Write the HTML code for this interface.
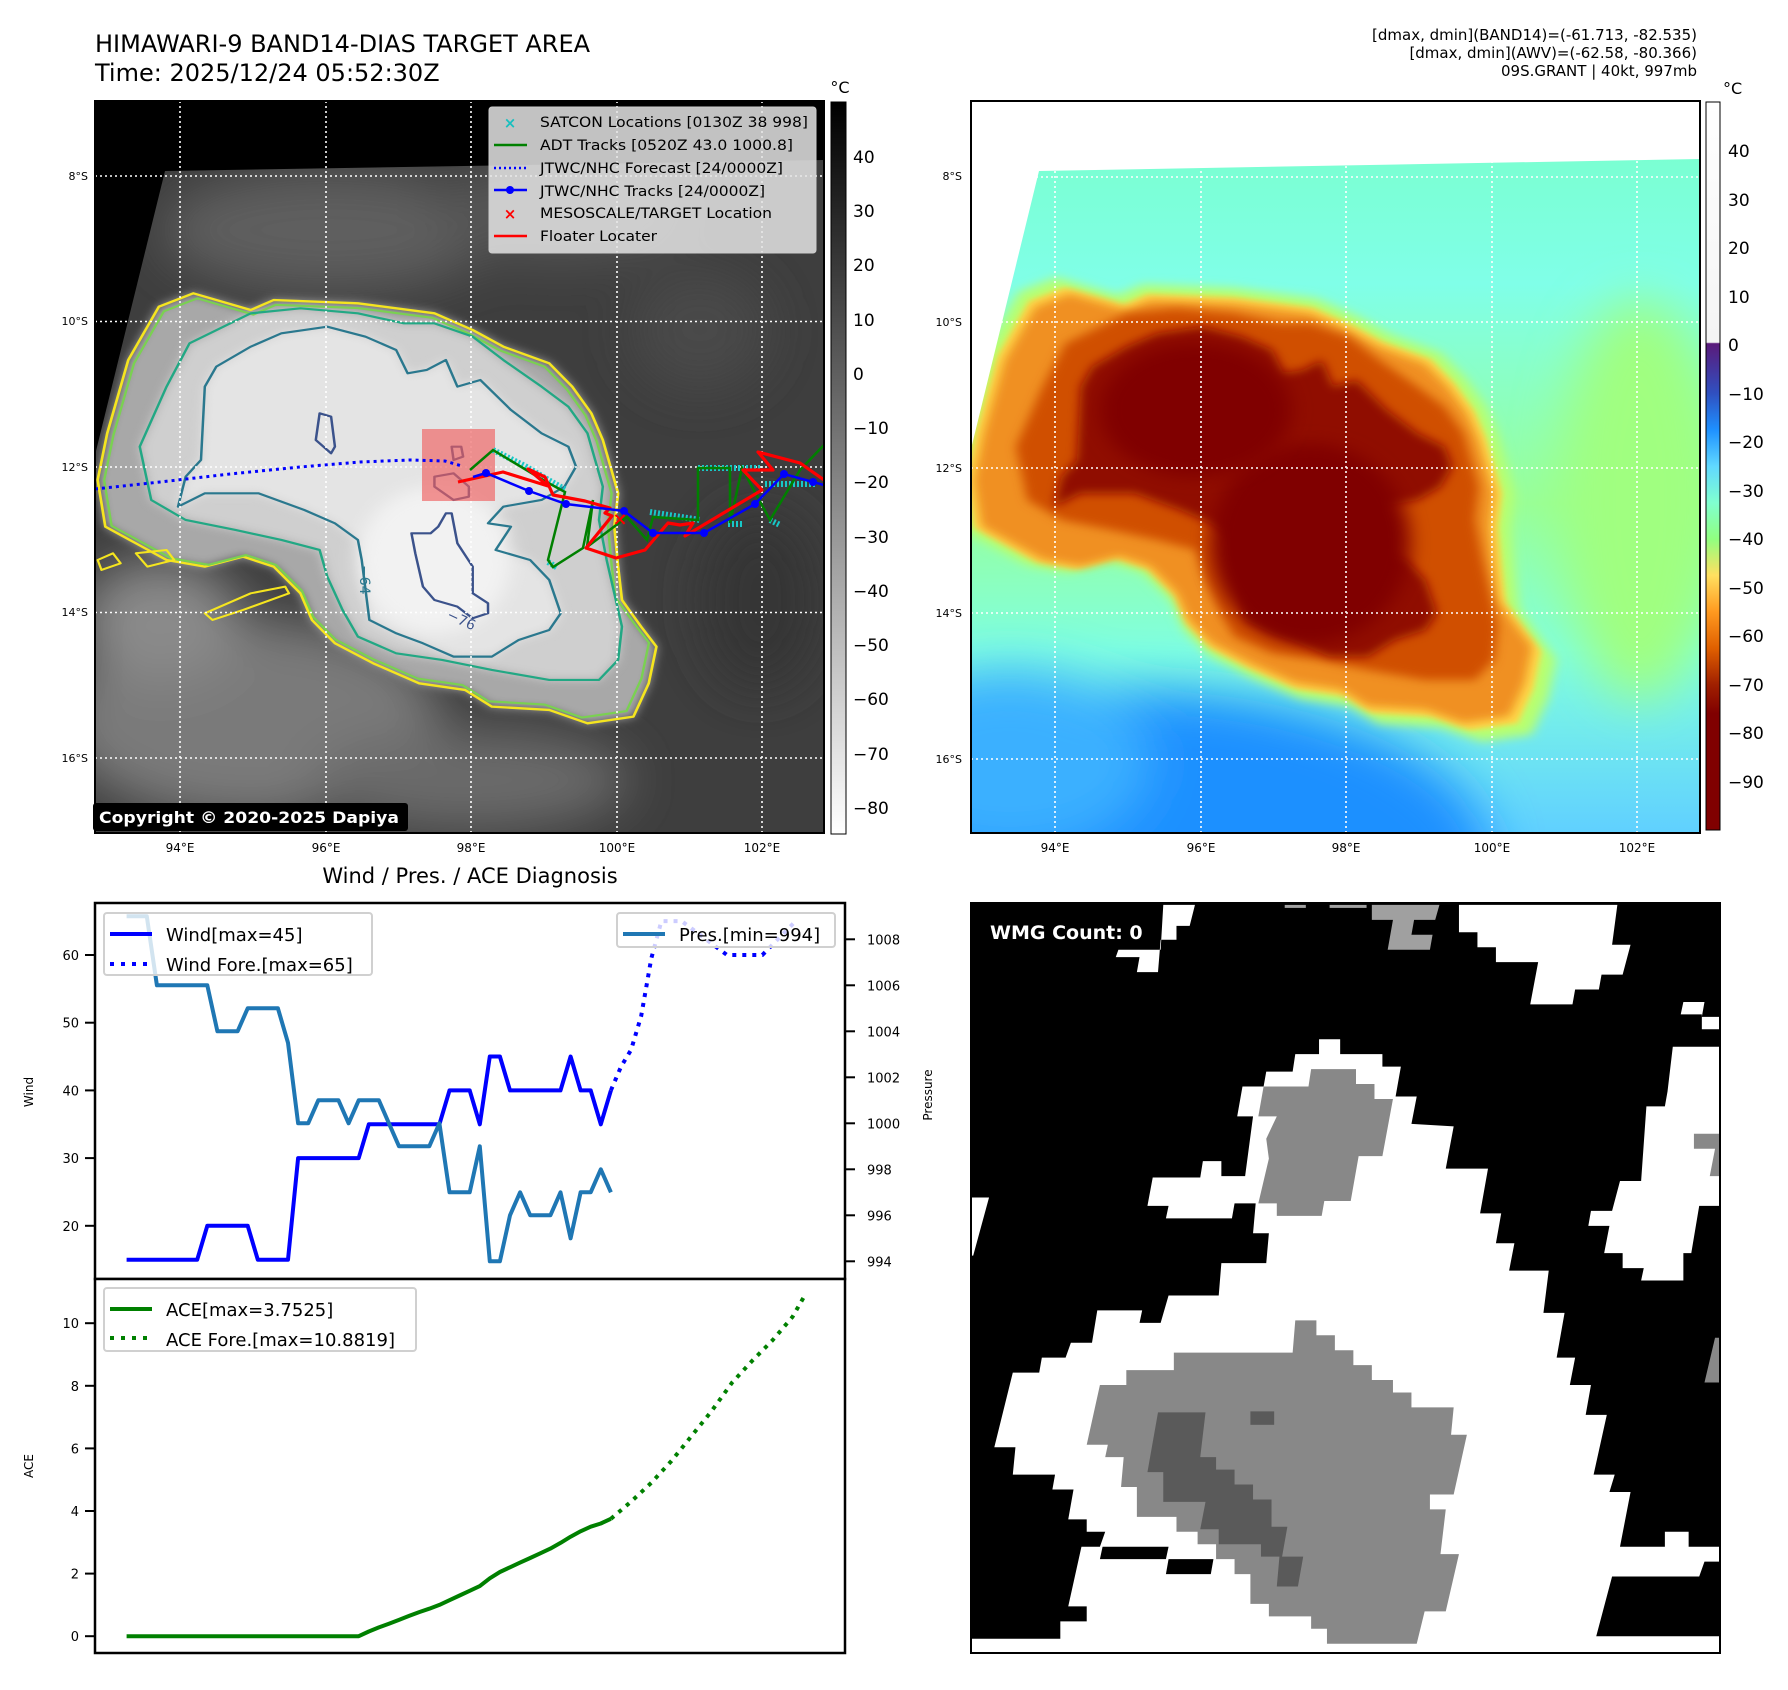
<!DOCTYPE html>
<html><head><meta charset="utf-8"><title>HIMAWARI-9 BAND14-DIAS TARGET AREA</title>
<style>
html,body{margin:0;padding:0;background:#fff;}
svg{display:block;font-family:"DejaVu Sans","Liberation Sans",sans-serif;}
</style></head>
<body>
<svg id="fig" width="1788" height="1690" viewBox="0 0 1788 1690" xmlns="http://www.w3.org/2000/svg">
<defs>
  <clipPath id="clipL"><rect x="95" y="101" width="729" height="732"/></clipPath>
  <clipPath id="clipR"><rect x="971" y="101" width="729" height="732"/></clipPath>
  <clipPath id="clipW"><rect x="971" y="903" width="749" height="750"/></clipPath>
  <filter id="blur8" x="-20%" y="-20%" width="140%" height="140%"><feGaussianBlur stdDeviation="8"/></filter>
  <filter id="blur14" x="-20%" y="-20%" width="140%" height="140%"><feGaussianBlur stdDeviation="14"/></filter>
  <filter id="blur25" x="-30%" y="-30%" width="160%" height="160%"><feGaussianBlur stdDeviation="25"/></filter>
  <linearGradient id="cbGray" x1="0" y1="0" x2="0" y2="1">
    <stop offset="0" stop-color="#000"/><stop offset="1" stop-color="#fff"/>
  </linearGradient>
  <linearGradient id="cbColor" x1="0" y1="0" x2="0" y2="1">
    <stop offset="0" stop-color="#ffffff"/>
    <stop offset="0.33" stop-color="#f4f4f4"/>
    <stop offset="0.332" stop-color="#5a1a7a"/>
    <stop offset="0.40" stop-color="#3050c0"/>
    <stop offset="0.45" stop-color="#1e90ff"/>
    <stop offset="0.50" stop-color="#60d8ff"/>
    <stop offset="0.55" stop-color="#80ffd0"/>
    <stop offset="0.60" stop-color="#90ff80"/>
    <stop offset="0.65" stop-color="#ffe060"/>
    <stop offset="0.70" stop-color="#ff9a20"/>
    <stop offset="0.75" stop-color="#e06000"/>
    <stop offset="0.80" stop-color="#a02000"/>
    <stop offset="0.84" stop-color="#800000"/>
    <stop offset="1" stop-color="#800000"/>
  </linearGradient>
  <linearGradient id="rBg" x1="0" y1="0" x2="0" y2="1">
    <stop offset="0" stop-color="#78ffc8"/>
    <stop offset="0.25" stop-color="#80ffe8"/>
    <stop offset="0.55" stop-color="#98ff98"/>
    <stop offset="0.75" stop-color="#80ffe0"/>
    <stop offset="1" stop-color="#60d0ff"/>
  </linearGradient>
  <path id="cOuter" d="M20,660 L45,520 L100,300 L180,140 L270,100 L420,150 L480,120 L700,130 L900,160 L1000,210 L1080,260 L1200,310 L1260,380 L1310,460 L1340,540 L1360,620 L1380,700 L1370,800 L1380,920 L1390,1020 L1440,1100 L1480,1160 L1460,1270 L1420,1370 L1300,1390 L1200,1350 L1050,1340 L980,1290 L860,1270 L740,1210 L640,1150 L580,1080 L550,1000 L480,920 L400,890 L300,920 L200,900 L120,850 L40,800 Z"/>
  <path id="cMid" d="M130,560 L200,380 L260,250 L420,160 L550,145 L700,160 L820,190 L900,190 L1000,230 L1080,300 L1180,380 L1250,440 L1300,520 L1320,600 L1340,680 L1330,780 L1350,900 L1370,1000 L1390,1100 L1380,1200 L1330,1260 L1200,1260 L1050,1230 L920,1200 L800,1180 L700,1130 L660,1050 L620,950 L600,870 L500,840 L380,810 L250,780 L160,720 Z"/>
  <path id="cInner" d="M290,600 L300,380 L330,320 L420,260 L500,220 L620,200 L720,230 L800,270 L830,340 L880,330 L930,300 L960,380 L1020,360 L1100,450 L1180,520 L1250,560 L1270,620 L1240,680 L1180,720 L1080,740 L1040,790 L1100,800 L1060,870 L1150,900 L1200,960 L1230,1060 L1200,1110 L1120,1140 L1050,1190 L950,1190 L870,1150 L800,1120 L730,1080 L710,900 L700,840 L640,790 L560,750 L440,700 L300,700 L230,740 L250,650 Z"/>
</defs>

<!-- ================= TITLES ================= -->
<text x="95" y="52" font-size="24" fill="#000">HIMAWARI-9 BAND14-DIAS TARGET AREA</text>
<text x="95" y="81" font-size="24" fill="#000">Time: 2025/12/24 05:52:30Z</text>
<g font-size="15" text-anchor="end" fill="#000">
  <text x="1697" y="40">[dmax, dmin](BAND14)=(-61.713, -82.535)</text>
  <text x="1697" y="58">[dmax, dmin](AWV)=(-62.58, -80.366)</text>
  <text x="1697" y="76">09S.GRANT | 40kt, 997mb</text>
</g>

<!-- ================= LEFT MAP ================= -->
<g>
 <g clip-path="url(#clipL)">
  <rect x="95" y="101" width="729" height="732" fill="#3e3e3e"/>
  <g filter="url(#blur25)">
    <ellipse cx="330" cy="230" rx="170" ry="60" fill="#5e5e5e"/>
    <ellipse cx="560" cy="210" rx="130" ry="50" fill="#555"/>
    <ellipse cx="700" cy="330" rx="70" ry="60" fill="#4a4a4a"/>
    <ellipse cx="250" cy="720" rx="190" ry="100" fill="#7a7a7a"/>
    <ellipse cx="160" cy="620" rx="80" ry="60" fill="#8a8a8a"/>
    <ellipse cx="470" cy="780" rx="160" ry="50" fill="#6a6a6a"/>
    <ellipse cx="760" cy="600" rx="60" ry="90" fill="#353535"/>
  </g>
  <g transform="translate(90,260) scale(0.3827,0.3333)">
    <use href="#cOuter" fill="#a8a8a8" filter="url(#blur14)"/>
    <use href="#cMid" fill="#cfcfcf" filter="url(#blur14)"/>
    <use href="#cInner" fill="#e4e4e4" filter="url(#blur14)"/>
    <ellipse cx="900" cy="900" rx="200" ry="220" fill="#f2f2f2" filter="url(#blur25)"/>
  </g>
  <polygon points="95,101 824,101 824,160 165,171 95,455" fill="#000"/>
  <g transform="translate(90,260) scale(0.3827,0.3333)" fill="none" stroke-linejoin="round">
    <use href="#cOuter" stroke="#f5e51f" stroke-width="7"/>
    <use href="#cOuter" stroke="#7ad151" stroke-width="6.5" transform="translate(700,700) scale(0.975) translate(-700,-700)"/>
    <use href="#cMid" stroke="#22a884" stroke-width="6.5"/>
    <use href="#cInner" stroke="#2a788e" stroke-width="6.5"/>
    <path d="M300,1060 L420,1000 L510,980 L520,1000 L400,1050 L320,1080 Z" stroke="#f5e51f" stroke-width="6"/>
    <path d="M20,900 L60,880 L80,910 L30,930 Z M120,880 L200,870 L220,900 L150,920 Z" stroke="#f5e51f" stroke-width="6"/>
    <path d="M600,460 L630,470 L640,560 L630,580 L590,540 Z" stroke="#3b528b" stroke-width="6.5"/>
    <path d="M840,820 L890,820 L910,800 L930,760 L945,760 L960,850 L1000,920 L1000,1000 L1040,1030 L1040,1060 L1000,1075 L960,1040 L900,1020 L870,980 L850,880 Z" stroke="#3b528b" stroke-width="6.5"/>
    <path d="M900,650 L950,640 L990,680 L990,710 L950,720 L900,680 Z M945,560 L970,560 L975,590 L950,600 Z" stroke="#3b528b" stroke-width="6.5"/>
  </g>
  <text x="446" y="618" font-size="14" fill="#3b528b" transform="rotate(25 446 618)">−76</text>
  <text x="360" y="565" font-size="14" fill="#2a788e" transform="rotate(90 360 565)">−64</text>
  <g stroke="#fff" stroke-width="1.6" stroke-dasharray="2 3">
    <line x1="180" y1="101" x2="180" y2="833"/><line x1="326" y1="101" x2="326" y2="833"/>
    <line x1="471" y1="101" x2="471" y2="833"/><line x1="617" y1="101" x2="617" y2="833"/>
    <line x1="762" y1="101" x2="762" y2="833"/>
    <line x1="95" y1="176" x2="824" y2="176"/><line x1="95" y1="321.5" x2="824" y2="321.5"/>
    <line x1="95" y1="467" x2="824" y2="467"/><line x1="95" y1="612.5" x2="824" y2="612.5"/>
    <line x1="95" y1="758" x2="824" y2="758"/>
  </g>
  <rect x="422" y="429" width="73" height="72" fill="#f06060" fill-opacity="0.65"/>
  <polyline points="95,489 160,482 230,474 300,467 360,462 410,460 445,461 462,466" fill="none" stroke="#0000ff" stroke-width="3" stroke-dasharray="3 4"/>
  <g fill="none" stroke="#18c8c8" stroke-width="6" stroke-dasharray="2 2">
    <polyline points="493,450 525,466 545,478 566,490"/>
    <polyline points="650,512 700,520"/>
    <polyline points="698,468 762,468"/>
    <polyline points="728,524 742,524"/>
    <polyline points="765,484 815,484"/>
    <polyline points="548,562 558,568"/>
    <polyline points="770,520 780,525"/>
  </g>
  <polyline points="470,470 493,450 543,480 565,492 548,560 553,567 583,548 593,500 587,547 627,517 647,540 653,517 698,520 698,468 730,468 730,523 742,468 770,520 800,470 824,445" fill="none" stroke="#008000" stroke-width="2.5"/>
  <polyline points="458,482 503,472 548,486 528,469 545,477 553,495 585,501 610,508 605,513 612,516 586,548 616,558 645,550 668,523 680,525 693,523 685,536 762,490 743,470 773,470 758,452 800,463 824,480" fill="none" stroke="#ff0000" stroke-width="3.2" stroke-linejoin="round"/>
  <polyline points="473,477 486,473 529,491 566,504 624,511 653,533 704,533 755,504 784,474 813,482 824,485" fill="none" stroke="#0000ff" stroke-width="2.5"/>
  <g fill="#0000ff">
    <circle cx="486" cy="473" r="4"/><circle cx="529" cy="491" r="4"/><circle cx="566" cy="504" r="4"/>
    <circle cx="624" cy="511" r="4"/><circle cx="653" cy="533" r="4"/><circle cx="704" cy="533" r="4"/>
    <circle cx="755" cy="504" r="4"/><circle cx="784" cy="474" r="4"/><circle cx="813" cy="482" r="4"/>
  </g>
  <text x="620" y="525" font-size="18" font-weight="bold" fill="#ff0000" text-anchor="middle">×</text>
 </g>
 <rect x="95" y="101" width="729" height="732" fill="none" stroke="#000" stroke-width="2"/>
 <g>
  <rect x="489" y="107" width="327" height="146" rx="3" fill="#e4e4e4" fill-opacity="0.85" stroke="#ccc"/>
  <text x="510" y="128" font-size="15" font-weight="bold" fill="#17bfbf" text-anchor="middle">×</text>
  <line x1="494" y1="145" x2="527" y2="145" stroke="#008000" stroke-width="2.5"/>
  <line x1="494" y1="168" x2="527" y2="168" stroke="#0000ff" stroke-width="2.5" stroke-dasharray="2 3"/>
  <line x1="494" y1="190" x2="527" y2="190" stroke="#0000ff" stroke-width="2.5"/><circle cx="510" cy="190" r="4" fill="#0000ff"/>
  <text x="510" y="219" font-size="15" font-weight="bold" fill="#ff0000" text-anchor="middle">×</text>
  <line x1="494" y1="236" x2="527" y2="236" stroke="#ff0000" stroke-width="2.5"/>
  <g font-size="14.5" fill="#000">
    <text x="540" y="127" textLength="268" lengthAdjust="spacingAndGlyphs">SATCON Locations [0130Z 38 998]</text>
    <text x="540" y="150" textLength="253" lengthAdjust="spacingAndGlyphs">ADT Tracks [0520Z 43.0 1000.8]</text>
    <text x="540" y="173" textLength="243" lengthAdjust="spacingAndGlyphs">JTWC/NHC Forecast [24/0000Z]</text>
    <text x="540" y="196" textLength="225" lengthAdjust="spacingAndGlyphs">JTWC/NHC Tracks [24/0000Z]</text>
    <text x="540" y="218" textLength="232" lengthAdjust="spacingAndGlyphs">MESOSCALE/TARGET Location</text>
    <text x="540" y="241" textLength="117" lengthAdjust="spacingAndGlyphs">Floater Locater</text>
  </g>
 </g>
 <g>
  <rect x="93" y="803" width="315" height="28" rx="3" fill="#000"/>
  <text x="99" y="823" font-size="16" font-weight="bold" fill="#fff" textLength="300" lengthAdjust="spacingAndGlyphs">Copyright © 2020-2025 Dapiya</text>
 </g>
 <g font-size="11" text-anchor="end" fill="#000">
  <text x="88" y="180">8°S</text><text x="88" y="325">10°S</text><text x="88" y="471">12°S</text><text x="88" y="616">14°S</text><text x="88" y="762">16°S</text>
 </g>
 <g font-size="12" text-anchor="middle" fill="#000">
  <text x="180" y="852">94°E</text><text x="326" y="852">96°E</text><text x="471" y="852">98°E</text><text x="617" y="852">100°E</text><text x="762" y="852">102°E</text>
 </g>
</g>
<g>
 <rect x="831" y="102" width="15" height="732" fill="url(#cbGray)" stroke="#000" stroke-width="1"/>
 <text x="840" y="93" font-size="16" text-anchor="middle">°C</text>
 <g font-size="17" fill="#000">
  <text x="853" y="163">40</text><text x="853" y="217">30</text><text x="853" y="271">20</text><text x="853" y="326">10</text>
  <text x="853" y="380">0</text><text x="853" y="434">−10</text><text x="853" y="488">−20</text><text x="853" y="543">−30</text>
  <text x="853" y="597">−40</text><text x="853" y="651">−50</text><text x="853" y="705">−60</text><text x="853" y="760">−70</text><text x="853" y="814">−80</text>
 </g>
</g>

<!-- ================= RIGHT MAP ================= -->
<g>
 <g clip-path="url(#clipR)">
  <rect x="971" y="101" width="729" height="732" fill="url(#rBg)"/>
  <g filter="url(#blur25)">
    <ellipse cx="1130" cy="860" rx="360" ry="170" fill="#1e90ff"/>
    <ellipse cx="1010" cy="760" rx="140" ry="90" fill="#3ab0ff"/>
    <ellipse cx="1640" cy="500" rx="80" ry="200" fill="#a0ff80"/>
  </g>
  <g transform="translate(966,260) scale(0.3827,0.3333)">
    <use href="#cOuter" fill="#b8ff70" filter="url(#blur14)" transform="translate(700,700) scale(1.08) translate(-700,-700)"/>
    <use href="#cOuter" fill="#ffd848" filter="url(#blur8)" transform="translate(700,700) scale(1.03) translate(-700,-700)"/>
    <use href="#cOuter" fill="#f09020" filter="url(#blur14)"/>
    <use href="#cMid" fill="#d05000" filter="url(#blur14)"/>
    <use href="#cInner" fill="#901000" filter="url(#blur14)"/>
    <ellipse cx="900" cy="850" rx="260" ry="300" fill="#800000" filter="url(#blur25)"/>
    <ellipse cx="600" cy="450" rx="250" ry="200" fill="#800000" filter="url(#blur25)"/>
  </g>
  <polygon points="971,101 1700,101 1700,159 1039,171 971,449" fill="#fff"/>
  <g stroke="#fff" stroke-width="1.6" stroke-dasharray="2 3">
    <line x1="1055" y1="101" x2="1055" y2="833"/><line x1="1201" y1="101" x2="1201" y2="833"/>
    <line x1="1346" y1="101" x2="1346" y2="833"/><line x1="1492" y1="101" x2="1492" y2="833"/>
    <line x1="1637" y1="101" x2="1637" y2="833"/>
    <line x1="971" y1="177" x2="1700" y2="177"/><line x1="971" y1="322" x2="1700" y2="322"/>
    <line x1="971" y1="468" x2="1700" y2="468"/><line x1="971" y1="613" x2="1700" y2="613"/>
    <line x1="971" y1="759" x2="1700" y2="759"/>
  </g>
 </g>
 <rect x="971" y="101" width="729" height="732" fill="none" stroke="#000" stroke-width="2"/>
 <g font-size="11" text-anchor="end" fill="#000">
  <text x="962" y="180">8°S</text><text x="962" y="326">10°S</text><text x="962" y="472">12°S</text><text x="962" y="617">14°S</text><text x="962" y="763">16°S</text>
 </g>
 <g font-size="12" text-anchor="middle" fill="#000">
  <text x="1055" y="852">94°E</text><text x="1201" y="852">96°E</text><text x="1346" y="852">98°E</text><text x="1492" y="852">100°E</text><text x="1637" y="852">102°E</text>
 </g>
</g>
<g>
 <rect x="1706" y="102" width="14" height="728" fill="url(#cbColor)" stroke="#000" stroke-width="1"/>
 <text x="1723" y="94" font-size="16">°C</text>
 <g font-size="17" fill="#000">
  <text x="1728" y="157">40</text><text x="1728" y="206">30</text><text x="1728" y="254">20</text><text x="1728" y="303">10</text>
  <text x="1728" y="351">0</text><text x="1728" y="400">−10</text><text x="1728" y="448">−20</text><text x="1728" y="497">−30</text>
  <text x="1728" y="545">−40</text><text x="1728" y="594">−50</text><text x="1728" y="642">−60</text><text x="1728" y="691">−70</text>
  <text x="1728" y="739">−80</text><text x="1728" y="788">−90</text>
 </g>
</g>

<!-- ================= WMG PANEL ================= -->
<g>
 <g clip-path="url(#clipW)">
  <rect x="971" y="903" width="749" height="750" fill="#000"/>
  <g transform="translate(960,890) scale(0.528,0.4975)">
   <g fill="#fff">
    <polygon points="680,300 720,300 720,330 800,330 800,355 835,355 825,415 865,415 855,470 935,475 920,560 1000,560 985,650 1025,650 1015,710 1050,710 1040,765 1115,765 1105,850 1145,850 1130,940 1165,940 1155,995 1195,995 1185,1055 1225,1055 1200,1175 1240,1175 1230,1210 1270,1210 1250,1320 1335,1320 1335,1290 1380,1290 1380,1320 1440,1320 1440,1350 1410,1350 1400,1380 1235,1380 1205,1500 1440,1500 1440,1535 20,1535 20,1505 190,1505 190,1470 240,1470 240,1440 205,1440 230,1320 265,1320 275,1290 240,1290 240,1265 205,1265 215,1205 175,1205 180,1175 100,1175 105,1120 65,1120 100,970 150,970 155,940 200,940 210,910 250,910 260,845 345,845 340,870 380,870 395,815 490,815 495,750 580,750 585,690 555,690 560,630 520,630 515,660 390,660 395,635 355,635 365,578 455,578 460,545 495,545 495,575 540,575 555,455 525,455 535,395 575,395 580,365 630,365 635,330 680,330"/>
    <polygon points="945,30 1245,30 1235,110 1270,110 1255,170 1215,170 1210,200 1165,200 1160,230 1080,230 1095,145 1015,145 1015,115 980,115 980,85 945,85"/>
    <polygon points="385,30 445,30 435,72 410,72 410,100 380,100 375,165 335,165 340,135 295,135 300,120 380,120"/>
    <polygon points="1350,315 1440,315 1440,635 1400,635 1385,730 1370,730 1370,785 1290,785 1295,760 1255,760 1255,730 1220,730 1230,675 1190,675 1195,645 1235,645 1250,585 1290,585 1300,435 1335,435 1340,405"/>
    <polygon points="1370,225 1410,225 1405,255 1440,255 1440,280 1405,280 1405,250 1365,250"/>
    <polygon points="20,618 55,618 25,735 20,735"/>
   </g>
   <g fill="#000">
    <polygon points="270,1320 395,1320 390,1345 265,1345"/>
    <polygon points="395,1345 480,1345 475,1375 390,1375"/>
   </g>
   <g fill="#888">
    <polygon points="665,360 750,360 750,390 785,390 785,420 820,420 800,535 755,535 740,625 690,625 685,655 600,655 600,630 565,630 585,540 580,500 600,455 565,455 575,395 660,395"/>
    <polygon points="635,865 675,865 675,895 710,895 710,925 745,925 745,955 780,955 780,985 820,985 820,1010 855,1010 855,1040 935,1040 930,1095 960,1095 935,1215 890,1215 890,1245 920,1245 910,1335 945,1335 920,1450 880,1450 865,1515 695,1515 695,1485 665,1485 665,1460 585,1460 585,1435 550,1435 550,1375 520,1375 520,1345 485,1345 485,1315 450,1315 450,1290 410,1290 410,1260 335,1260 335,1200 305,1200 310,1140 275,1140 280,1115 240,1115 265,995 315,995 315,965 405,965 405,930 630,930"/>
    <polygon points="1390,490 1440,490 1440,575 1420,575 1430,520 1390,520"/>
    <polygon points="1430,900 1440,900 1440,990 1410,990"/>
   </g>
   <g fill="#a0a0a0">
    <polygon points="780,30 908,30 900,60 860,60 855,90 895,90 890,120 810,120 820,60 780,60"/>
    <rect x="615" y="30" width="40" height="6"/><rect x="700" y="30" width="70" height="6"/>
   </g>
   <g fill="#5a5a5a">
    <polygon points="375,1050 465,1050 455,1140 485,1140 485,1165 520,1165 520,1195 555,1195 555,1225 590,1225 590,1280 620,1280 610,1340 650,1340 640,1400 600,1400 605,1340 570,1340 570,1315 490,1315 490,1285 455,1285 465,1230 385,1230 385,1170 355,1170"/>
    <rect x="550" y="1048" width="45" height="27"/>
   </g>
  </g>
 </g>
 <rect x="971" y="903" width="749" height="750" fill="none" stroke="#000" stroke-width="2"/>
 <text x="990" y="939" font-size="19" font-weight="bold" fill="#fff">WMG Count: 0</text>
</g>

<!-- ================= DIAGNOSIS CHART ================= -->
<text x="470" y="883" font-size="21" text-anchor="middle" fill="#000">Wind / Pres. / ACE Diagnosis</text>
<g id="chart"></g>

<script>
// ---- chart data (x = 3-hourly step index) ----
const windObs = [15,15,15,15,15,15,15,15,20,20,20,20,20,15,15,15,15,30,30,30,30,30,30,30,35,35,35,35,35,35,35,35,40,40,40,35,45,45,40,40,40,40,40,40,45,40,40,35,40];
const windForeIdx = [48,49,50,51,52,53,55,59.5,63,64,66.3];
const windFore = [40,43.5,46,51,59.5,65,65,60,60,61.5,65];
const presObs = [1009,1009,1009,1006,1006,1006,1006,1006,1006,1004,1004,1004,1005,1005,1005,1005,1003.5,1000,1000,1001,1001,1001,1000,1001,1001,1001,1000,999,999,999,999,1000,997,997,997,999,994,994,996,997,996,996,996,997,995,997,997,998,997];
const aceObs = [0,0,0,0,0,0,0,0,0,0,0,0,0,0,0,0,0,0,0,0,0,0,0,0,0.15,0.28,0.4,0.52,0.65,0.77,0.88,1.0,1.15,1.3,1.45,1.6,1.85,2.05,2.2,2.35,2.5,2.65,2.8,2.98,3.18,3.35,3.5,3.6,3.75];
const aceForeIdx = [48,50,52,54,56,58,60,62,64,66,67.2];
const aceFore = [3.75,4.3,4.9,5.6,6.4,7.2,8.1,8.8,9.45,10.2,10.88];
const windTicks = [20,30,40,50,60];
const presTicks = [994,996,998,1000,1002,1004,1006,1008];
const aceTicks = [0,2,4,6,8,10];

const NS = 'http://www.w3.org/2000/svg';
const chart = document.getElementById('chart');
const L = 95, R = 845, T = 903, MID = 1279, B = 1653;
function xS(i){ return 126.6 + i*10.09; }
function yWind(w){ return 955 + (60-w)*6.77; }
function yPres(p){ return 1261.3 - (p-994)*23; }
function yAce(a){ return 1636.2 - a*31.3; }

function mk(tag, attrs, parent){
  const e = document.createElementNS(NS, tag);
  for (const k in attrs) e.setAttribute(k, attrs[k]);
  (parent||chart).appendChild(e);
  return e;
}
function pts(xs, ys){ return xs.map((x,k)=>x.toFixed(1)+','+ys[k].toFixed(1)).join(' '); }

let e;
e = mk('rect',{x:L,y:T,width:R-L,height:MID-T,fill:'#fff',stroke:'#000','stroke-width':2.5});


e = mk('rect',{x:L,y:MID,width:R-L,height:B-MID,fill:'#fff',stroke:'#000','stroke-width':2.5});



windTicks.forEach(v=>{
  const y=yWind(v);
  mk('line',{x1:L-10,y1:y,x2:L,y2:y,stroke:'#000','stroke-width':2});
  e = mk('text',{x:L-16,y:y+5,'font-size':13,'text-anchor':'end'}); e.textContent=v;
  
  
});
presTicks.forEach(v=>{
  const y=yPres(v);
  mk('line',{x1:R,y1:y,x2:R+10,y2:y,stroke:'#000','stroke-width':2});
  e = mk('text',{x:R+22,y:y+5,'font-size':13}); e.textContent=v;
  
  
});
aceTicks.forEach(v=>{
  const y=yAce(v);
  mk('line',{x1:L-10,y1:y,x2:L,y2:y,stroke:'#000','stroke-width':2});
  e = mk('text',{x:L-16,y:y+5,'font-size':13,'text-anchor':'end'}); e.textContent=v;
  
  
});
e = mk('text',{x:33,y:1092,'font-size':12,'text-anchor':'middle',transform:'rotate(-90 33 1092)'}); e.textContent='Wind';


e = mk('text',{x:932,y:1095,'font-size':12,'text-anchor':'middle',transform:'rotate(-90 932 1095)'}); e.textContent='Pressure';


e = mk('text',{x:33,y:1466,'font-size':12,'text-anchor':'middle',transform:'rotate(-90 33 1466)'}); e.textContent='ACE';



const idxObs = windObs.map((_,i)=>i);
e = mk('polyline',{points:pts(idxObs.map(xS), windObs.map(yWind)),fill:'none',stroke:'#0000ff','stroke-width':4,'stroke-linejoin':'round'});


e = mk('polyline',{points:pts(windForeIdx.map(xS), windFore.map(yWind)),fill:'none',stroke:'#0000ff','stroke-width':4,'stroke-dasharray':'4 6'});


e = mk('polyline',{points:pts(presObs.map((_,i)=>xS(i)), presObs.map(yPres)),fill:'none',stroke:'#1f77b4','stroke-width':4,'stroke-linejoin':'round'});


e = mk('polyline',{points:pts(aceObs.map((_,i)=>xS(i)), aceObs.map(yAce)),fill:'none',stroke:'#008000','stroke-width':4,'stroke-linejoin':'round'});


e = mk('polyline',{points:pts(aceForeIdx.map(xS), aceFore.map(yAce)),fill:'none',stroke:'#008000','stroke-width':4,'stroke-dasharray':'4 6'});



function legendBox(x,y,w,h,name){
  const g = mk('g',{});
  
  
  mk('rect',{x:x,y:y,width:w,height:h,rx:3,fill:'#fff','fill-opacity':0.8,stroke:'#d0d0d0','stroke-width':2},g);
  return g;
}
let g = legendBox(104,913,268,62,'wind-legend');
mk('line',{x1:110,y1:934,x2:152,y2:934,stroke:'#0000ff','stroke-width':4},g);
mk('line',{x1:110,y1:964,x2:152,y2:964,stroke:'#0000ff','stroke-width':4,'stroke-dasharray':'4 7'},g);
e = mk('text',{x:166,y:941,'font-size':18},g); e.textContent='Wind[max=45]';
e = mk('text',{x:166,y:971,'font-size':18},g); e.textContent='Wind Fore.[max=65]';
g = legendBox(617,913,218,34,'pressure-legend');
mk('line',{x1:623,y1:934,x2:665,y2:934,stroke:'#1f77b4','stroke-width':4},g);
e = mk('text',{x:679,y:941,'font-size':18},g); e.textContent='Pres.[min=994]';
g = legendBox(104,1288,312,63,'ace-legend');
mk('line',{x1:110,y1:1309,x2:152,y2:1309,stroke:'#008000','stroke-width':4},g);
mk('line',{x1:110,y1:1338,x2:152,y2:1338,stroke:'#008000','stroke-width':4,'stroke-dasharray':'4 7'},g);
e = mk('text',{x:166,y:1316,'font-size':18},g); e.textContent='ACE[max=3.7525]';
e = mk('text',{x:166,y:1346,'font-size':18},g); e.textContent='ACE Fore.[max=10.8819]';
</script>
</svg>
</body></html>
